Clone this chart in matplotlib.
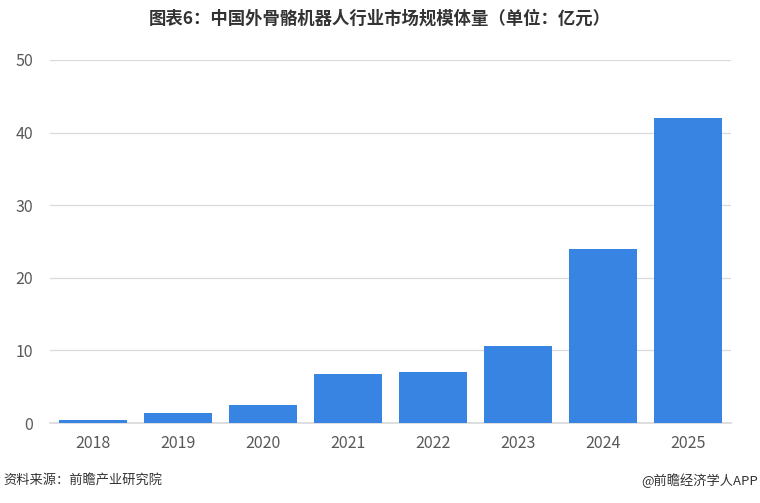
import numpy as np
import matplotlib
matplotlib.use("Agg")
import matplotlib.pyplot as plt

plt.rcParams['font.family'] = ['Noto Sans CJK SC', 'DejaVu Sans']

years = ['2018', '2019', '2020', '2021', '2022', '2023', '2024', '2025']
values = [0.4, 1.4, 2.5, 6.8, 7.0, 10.6, 24.0, 42.0]

fig = plt.figure(figsize=(7.6, 5.03), dpi=100)
ax = fig.add_axes([50 / 760, 1 - 423 / 503, 681 / 760, 363 / 503])

x = np.arange(len(years))
ax.bar(x, values, width=0.8, color='#3784E3', zorder=3)

ax.set_xlim(-0.5, len(years) - 0.5)
ax.set_ylim(0, 50)
ax.set_yticks(np.arange(0, 51, 10))
ax.set_xticks(x)
ax.set_xticklabels(years)
ax.yaxis.grid(True, color='#d9d9d9', linewidth=0.9, zorder=0)
for s in ['top', 'right', 'left']:
    ax.spines[s].set_visible(False)
ax.spines['bottom'].set_color('#d9d9d9')
ax.spines['bottom'].set_linewidth(1.2)
ax.tick_params(axis='both', length=0, labelsize=11.5, colors='#595959')
ax.tick_params(axis='x', pad=9)
ax.tick_params(axis='y', pad=12)

fig.text(0.5, 0.962, '图表6：中国外骨骼机器人行业市场规模体量（单位：亿元）',
         ha='center', va='center', fontsize=12.5, fontweight='bold', color='#333333')
fig.text(0.005, 0.045, '资料来源：前瞻产业研究院', ha='left', va='center',
         fontsize=9.5, color='#333333')
fig.text(0.998, 0.045, '@前瞻经济学人APP', ha='right', va='center',
         fontsize=9.5, color='#333333')

fig.savefig('out.png', dpi=100)
